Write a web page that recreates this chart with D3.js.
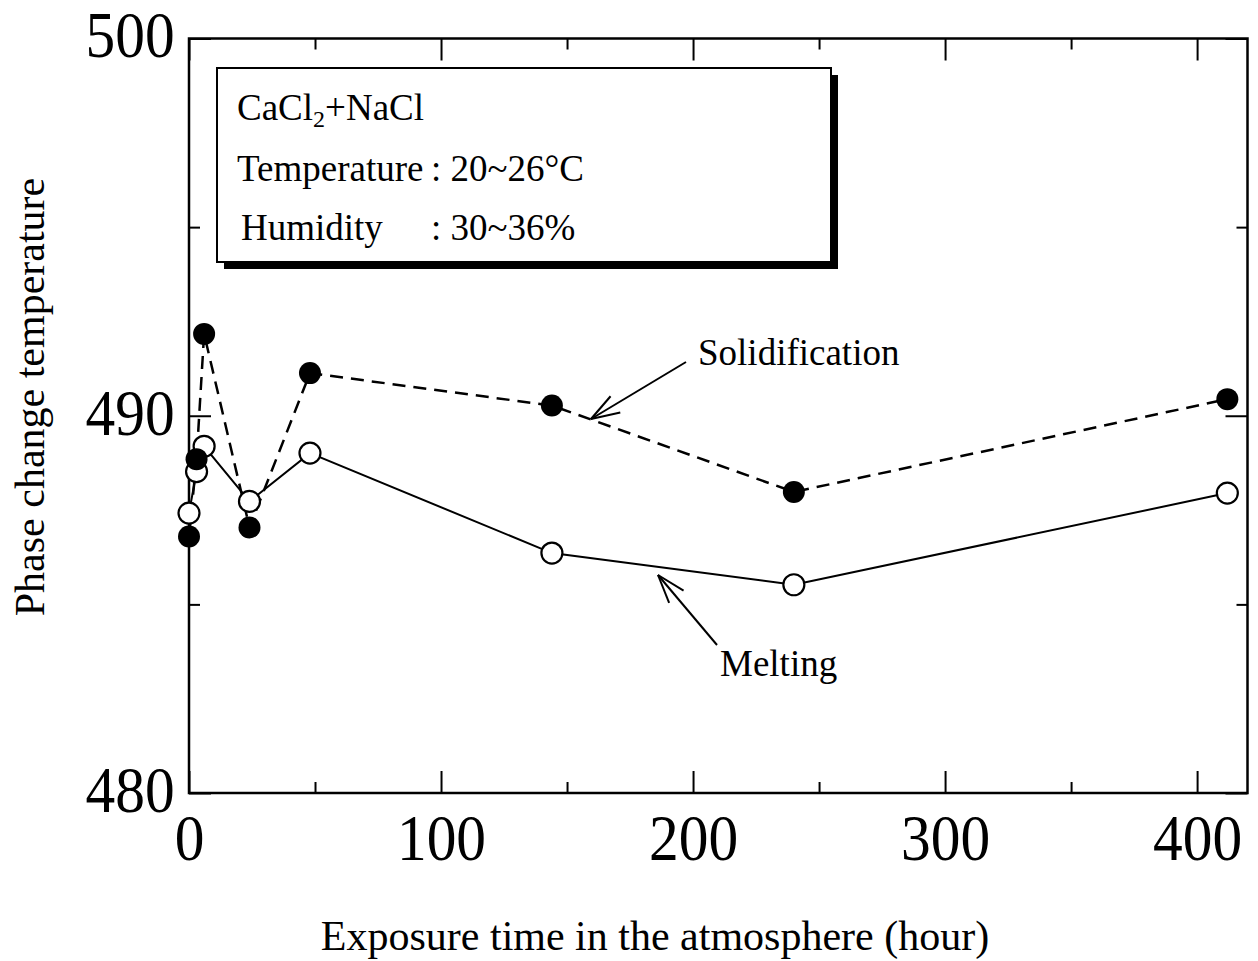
<!DOCTYPE html>
<html>
<head>
<meta charset="utf-8">
<script src="https://cdn.jsdelivr.net/npm/d3@7"></script>
<style>
  html, body { margin: 0; padding: 0; background: #fff; }
  svg { display: block; }
  text { font-family: "Liberation Serif", "Times New Roman", serif; fill: #000; }
</style>
</head>
<body>
<svg id="chart" width="1258" height="961"></svg>
<script>
// Exposure time (hours) at which each sample was measured
const hours = [0, 3, 6, 24, 48, 144, 240, 412];
// Phase change temperatures for each exposure time
const solidification = [486.8, 488.85, 492.17, 487.04, 491.13, 490.27, 487.98, 490.44];
const melting = [487.42, 488.52, 489.19, 487.73, 489.01, 486.36, 485.52, 487.95];

// Axis ticks
const xMajorTicks = [0, 100, 200, 300, 400];
const xMinorTicks = [50, 150, 250, 350];
const yMajorTicks = [480, 490, 500];
const yMinorTicks = [485, 495];

// Text blocks
const boxLines = [
  { label: "Temperature", value: ": 20~26°C" },
  { label: "Humidity", value: ": 30~36%" }
];

const svg = d3.select("#chart");
const frame = { left: 189, right: 1247.5, top: 38.5, bottom: 793 };

const x = d3.scaleLinear().domain([0, 420]).range([frame.left, frame.right]);
const y = d3.scaleLinear().domain([480, 500]).range([frame.bottom, frame.top]);

// Plot frame
svg.append("rect")
  .attr("x", frame.left).attr("y", frame.top)
  .attr("width", frame.right - frame.left).attr("height", frame.bottom - frame.top)
  .attr("fill", "none").attr("stroke", "#000").attr("stroke-width", 2.5);

function styleAxis(g) {
  g.select(".domain").remove();
  g.selectAll(".tick line").attr("stroke", "#000").attr("stroke-width", 2);
}

// Bottom axis: major ticks with labels
const bottom = svg.append("g")
  .attr("transform", `translate(0,${frame.bottom})`)
  .call(d3.axisBottom(x).tickValues(xMajorTicks).tickSizeInner(-22).tickSizeOuter(0).tickPadding(20).tickFormat(d3.format("d")))
  .call(styleAxis);
bottom.selectAll(".tick text")
  .attr("font-size", 66)
  .attr("font-family", "Liberation Serif, serif")
  .attr("transform", "scale(0.9,1)");

svg.append("g")
  .attr("transform", `translate(0,${frame.bottom})`)
  .call(d3.axisBottom(x).tickValues(xMinorTicks).tickSizeInner(-11).tickSizeOuter(0).tickFormat(""))
  .call(styleAxis);

// Top axis: ticks only
svg.append("g")
  .attr("transform", `translate(0,${frame.top})`)
  .call(d3.axisTop(x).tickValues(xMajorTicks).tickSizeInner(-22).tickSizeOuter(0).tickFormat(""))
  .call(styleAxis);
svg.append("g")
  .attr("transform", `translate(0,${frame.top})`)
  .call(d3.axisTop(x).tickValues(xMinorTicks).tickSizeInner(-11).tickSizeOuter(0).tickFormat(""))
  .call(styleAxis);

// Left axis: major ticks with labels
const left = svg.append("g")
  .attr("transform", `translate(${frame.left},0)`)
  .call(d3.axisLeft(y).tickValues(yMajorTicks).tickSizeInner(-22).tickSizeOuter(0).tickPadding(16).tickFormat(d3.format("d")))
  .call(styleAxis);
left.selectAll(".tick text")
  .attr("font-size", 66)
  .attr("font-family", "Liberation Serif, serif")
  .attr("dy", "0.28em")
  .attr("transform", "scale(0.9,1)");

svg.append("g")
  .attr("transform", `translate(${frame.left},0)`)
  .call(d3.axisLeft(y).tickValues(yMinorTicks).tickSizeInner(-11).tickSizeOuter(0).tickFormat(""))
  .call(styleAxis);

// Right axis: ticks only
svg.append("g")
  .attr("transform", `translate(${frame.right},0)`)
  .call(d3.axisRight(y).tickValues(yMajorTicks).tickSizeInner(-22).tickSizeOuter(0).tickFormat(""))
  .call(styleAxis);
svg.append("g")
  .attr("transform", `translate(${frame.right},0)`)
  .call(d3.axisRight(y).tickValues(yMinorTicks).tickSizeInner(-11).tickSizeOuter(0).tickFormat(""))
  .call(styleAxis);

// Axis titles
svg.append("text")
  .attr("x", 655).attr("y", 950)
  .attr("text-anchor", "middle")
  .attr("font-size", 42)
  .text("Exposure time in the atmosphere (hour)");

svg.append("text")
  .attr("transform", "translate(44,397) rotate(-90)")
  .attr("text-anchor", "middle")
  .attr("font-size", 42)
  .text("Phase change temperature");

// Conditions box with drop shadow
const box = { x: 217, y: 68, w: 614, h: 194, shadow: 7 };
svg.append("rect")
  .attr("x", box.x + box.shadow).attr("y", box.y + box.shadow)
  .attr("width", box.w).attr("height", box.h)
  .attr("fill", "#000");
svg.append("rect")
  .attr("x", box.x).attr("y", box.y)
  .attr("width", box.w).attr("height", box.h)
  .attr("fill", "#fff").attr("stroke", "#000").attr("stroke-width", 2);

const boxText = svg.append("g").attr("font-size", 37);
const title = boxText.append("text").attr("x", 237).attr("y", 120);
title.append("tspan").text("CaCl");
title.append("tspan").attr("font-size", 24).attr("dy", 7).text("2");
title.append("tspan").attr("dy", -7).text("+NaCl");

boxLines.forEach((d, i) => {
  const by = 181 + i * 59;
  boxText.append("text").attr("x", i === 0 ? 237 : 241).attr("y", by).text(d.label);
  boxText.append("text").attr("x", 431).attr("y", by).text(d.value);
});

// Series lines
const line = d3.line().x(d => x(d[0])).y(d => y(d[1]));
const solidPts = hours.map((h, i) => [h, solidification[i]]);
const meltPts = hours.map((h, i) => [h, melting[i]]);

svg.append("path")
  .attr("d", line(meltPts))
  .attr("fill", "none").attr("stroke", "#000").attr("stroke-width", 2);

svg.append("path")
  .attr("d", line(solidPts))
  .attr("fill", "none").attr("stroke", "#000").attr("stroke-width", 2.5)
  .attr("stroke-dasharray", "13,8");

// Markers: open circles for melting, filled for solidification
svg.append("g").selectAll("circle")
  .data(meltPts).join("circle")
  .attr("cx", d => x(d[0])).attr("cy", d => y(d[1])).attr("r", 10.5)
  .attr("fill", "#fff").attr("stroke", "#000").attr("stroke-width", 2.2);

svg.append("g").selectAll("circle")
  .data(solidPts).join("circle")
  .attr("cx", d => x(d[0])).attr("cy", d => y(d[1])).attr("r", 11)
  .attr("fill", "#000");

// Annotations with open arrowheads
function arrow(x1, y1, x2, y2, barb = 30, spread = 0.32) {
  const a = Math.atan2(y1 - y2, x1 - x2);
  const g = svg.append("g").attr("stroke", "#000").attr("stroke-width", 2).attr("fill", "none");
  g.append("line").attr("x1", x1).attr("y1", y1).attr("x2", x2).attr("y2", y2);
  [a - spread, a + spread].forEach(t => {
    g.append("line").attr("x1", x2).attr("y1", y2)
      .attr("x2", x2 + barb * Math.cos(t)).attr("y2", y2 + barb * Math.sin(t));
  });
}

arrow(686, 362, 591, 419);
svg.append("text").attr("x", 698).attr("y", 365).attr("font-size", 37).text("Solidification");

arrow(717, 645, 658, 575);
svg.append("text").attr("x", 720).attr("y", 676).attr("font-size", 37).text("Melting");
</script>
</body>
</html>
